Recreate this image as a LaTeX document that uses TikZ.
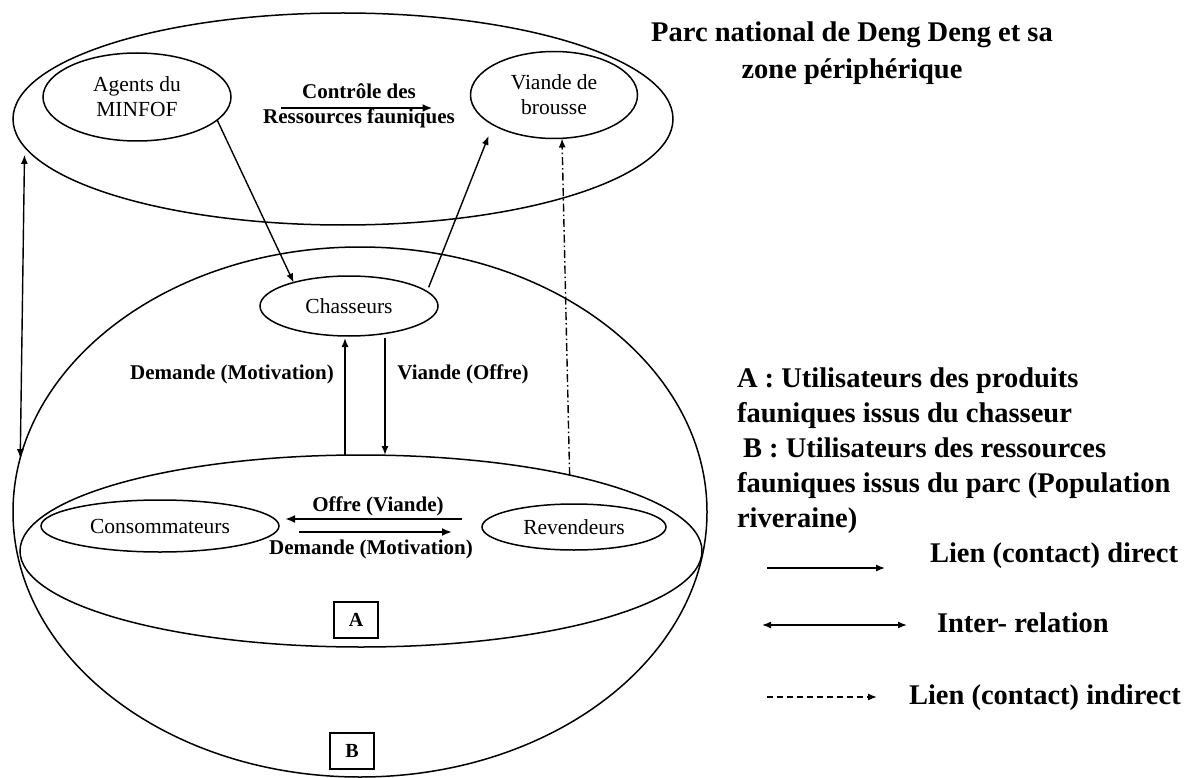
\documentclass[tikz,border=0pt]{standalone}
\usepackage{fontspec}
\setmainfont{Liberation Serif}
\usetikzlibrary{shapes.geometric,arrows.meta,calc}
\begin{document}
\begin{tikzpicture}[x=1pt,y=-1pt,
  every node/.style={inner sep=0pt, outer sep=0pt},
  zone/.style={draw, ellipse, line width=1.5pt},
  actor/.style={draw, ellipse, line width=1.5pt, font=\fontsize{21.5}{25}\selectfont, align=center},
  lbl/.style={font=\fontsize{21}{24.5}\selectfont\bfseries, align=center},
  leg/.style={font=\fontsize{28.5}{35}\selectfont\bfseries, anchor=base west},
  tag/.style={draw, line width=1.5pt, minimum width=44pt, minimum height=36pt, font=\fontsize{20}{24}\selectfont\bfseries},
  arr/.style={line width=1.4pt, -{Latex[length=9pt,width=7pt]}},
  barr/.style={line width=2pt, -{Latex[length=10pt,width=8pt]}},
  darr/.style={line width=1.4pt, {Latex[length=9pt,width=7pt]}-{Latex[length=9pt,width=7pt]}},
  dd/.style={line width=1.4pt, dash pattern=on 8pt off 3pt on 1.5pt off 3pt, -{Latex[length=9pt,width=7pt]}},
  dsh/.style={line width=1.4pt, dash pattern=on 6pt off 4pt, -{Latex[length=9pt,width=7pt]}},
]
\useasboundingbox (0,0) rectangle (1199,778);

% zones
\node[zone, minimum width=660pt, minimum height=212pt] (parc) at (343,119) {};
\node[zone, minimum width=694pt, minimum height=530pt] (B) at (360,512) {};
\node[zone, minimum width=682pt, minimum height=192pt] (A) at (361,551) {};

% actors
\node[actor, minimum width=188pt, minimum height=88pt] (agents) at (137,97) {Agents du\\MINFOF};
\node[actor, minimum width=167pt, minimum height=87pt] (viande) at (554,95) {Viande de\\brousse};
\node[actor, minimum width=178pt, minimum height=60pt] (chass) at (349,306) {Chasseurs};
\node[actor, minimum width=238pt, minimum height=52pt] (conso) at (160,526) {Consommateurs};
\node[actor, minimum width=184pt, minimum height=46pt] (revend) at (574,527) {Revendeurs};

% labels
\node[lbl] (ctrl) at (359,106) {Contrôle des\\Ressources fauniques};
\node[lbl] (demH) at (232,374) {Demande (Motivation)};
\node[lbl] (vOffre) at (463,374) {Viande (Offre)};
\node[lbl] (offreV) at (378,506) {Offre (Viande)};
\node[lbl] (demL) at (371,549) {Demande (Motivation)};

\node[tag] (tagA) at (356,620) {A};
\node[tag] (tagB) at (352,751) {B};

% connectors
\draw[barr, shorten <=50pt, shorten >=38pt] ([yshift=-11pt]agents.east) -- ([yshift=-13pt]viande.west);
\draw[arr] (agents.-16) -- (chass.157);
\draw[arr, shorten >=12pt] ([xshift=10pt]chass.15) -- (viande.206);
\draw[dd] (A.20) -- ([xshift=8pt]viande.south);
\draw[arr, shorten >=2pt] ([xshift=-16pt]A.north) -- ([xshift=-4pt]chass.south);
\draw[arr, shorten <=2pt] ([xshift=36pt]chass.south) -- ([xshift=24pt]A.north);
\draw[darr, shorten <=8pt] (parc.185) -- (B.171);
\draw[barr, shorten <=20pt, shorten >=6pt] ([yshift=8pt]revend.west) -- ([yshift=7pt]conso.east);
\draw[barr, shorten <=20pt, shorten >=30pt] ([yshift=-6pt]conso.east) -- ([yshift=-5pt]revend.west);

% title and legend
\node[font=\fontsize{28.5}{37}\selectfont\bfseries, align=center] (title) at (852,53) {Parc national de Deng Deng et sa\\zone périphérique};
\node[leg] (la1) at (737,387) {A : Utilisateurs des produits};
\node[leg] (la2) at (737,422) {fauniques issus du chasseur};
\node[leg] (lb1) at (743,457) {B : Utilisateurs des ressources};
\node[leg] (lb2) at (737,492) {fauniques issus du parc (Population};
\node[leg] (lb3) at (737,527) {riveraine)};
\node[leg] (l1) at (930,562) {Lien (contact) direct};
\node[leg] (l2) at (937,632) {Inter- relation};
\node[leg] (l3) at (909,704) {Lien (contact) indirect};

\coordinate (d1a) at (767,568); \coordinate (d1b) at (885,568);
\coordinate (d2a) at (762,625); \coordinate (d2b) at (907,625);
\coordinate (d3a) at (767,697); \coordinate (d3b) at (877,697);
\draw[arr] (d1a) -- (d1b);
\draw[darr] (d2a) -- (d2b);
\draw[dsh] (d3a) -- (d3b);
\end{tikzpicture}
\end{document}
